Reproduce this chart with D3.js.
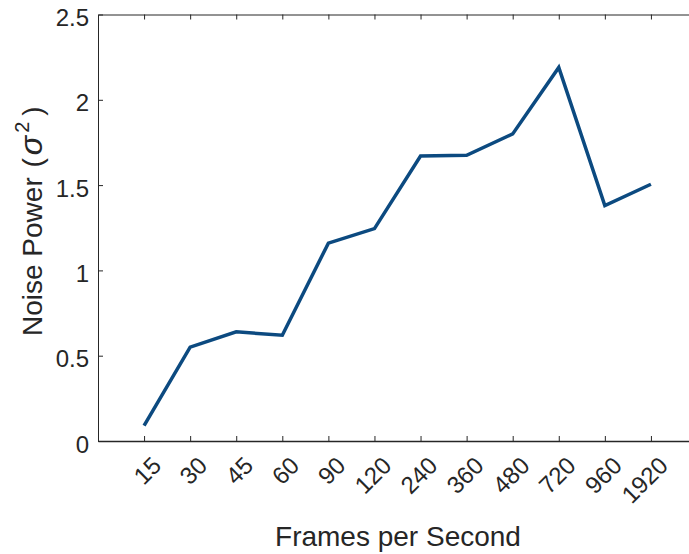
<!DOCTYPE html>
<html>
<head>
<meta charset="utf-8">
<script src="https://cdn.jsdelivr.net/npm/d3@7"></script>
<style>
  html, body { margin: 0; padding: 0; background: #fff; }
  svg { display: block; }
  text { font-family: "Liberation Sans", Arial, Helvetica, sans-serif; fill: #262626; }
</style>
</head>
<body>
<svg id="chart" width="689" height="554"></svg>
<script>
// Frame rates on the x axis (categorical)
const frameRates = ["15", "30", "45", "60", "90", "120", "240", "360", "480", "720", "960", "1920"];
// Measured noise power for each frame rate
const noisePower = [0.09, 0.55, 0.64, 0.62, 1.16, 1.245, 1.67, 1.675, 1.80, 2.19, 1.38, 1.505];
// Y-axis tick values
const yTicks = [0, 0.5, 1, 1.5, 2, 2.5];

const svg = d3.select("#chart");
const plotLeft = 98, plotTop = 14.5, plotBottom = 441, plotRight = 697;

// Category k sits at position k+1 on a [0, n+1] range
const x = d3.scaleLinear().domain([0, frameRates.length + 1]).range([plotLeft, plotRight]);
const y = d3.scaleLinear().domain([0, 2.5]).range([plotBottom, plotTop]);

const axisColor = "#262626";
const tickLen = 5;
const tickFont = 24;
const idx = frameRates.map((_, i) => i + 1);

// Bottom axis with inward ticks and rotated labels
const xAxis = svg.append("g").attr("transform", `translate(0,${plotBottom})`)
  .call(d3.axisBottom(x).tickValues(idx).tickSizeInner(-tickLen).tickSizeOuter(0)
    .tickFormat(d => frameRates[d - 1]));
xAxis.select(".domain").attr("stroke", axisColor).attr("stroke-width", 1.3);
xAxis.selectAll(".tick line").attr("stroke", axisColor);
xAxis.selectAll(".tick text")
  .attr("font-size", tickFont)
  .attr("fill", "#262626")
  .attr("text-anchor", "end")
  .attr("dy", 0)
  .attr("y", 0)
  .attr("transform", "translate(18,26) rotate(-45)");

// Top axis: line and ticks only
const xTop = svg.append("g").attr("transform", `translate(0,${plotTop})`)
  .call(d3.axisTop(x).tickValues(idx).tickSizeInner(-tickLen).tickSizeOuter(0).tickFormat(""));
xTop.select(".domain").attr("stroke", axisColor).attr("stroke-width", 1);
xTop.selectAll(".tick line").attr("stroke", axisColor);

// Left axis with inward ticks
const yAxis = svg.append("g").attr("transform", `translate(${plotLeft},0)`)
  .call(d3.axisLeft(y).tickValues(yTicks).tickSizeInner(-tickLen).tickSizeOuter(0)
    .tickFormat(d => String(d)));
yAxis.select(".domain").attr("stroke", axisColor).attr("stroke-width", 1);
yAxis.selectAll(".tick line").attr("stroke", axisColor);
yAxis.selectAll(".tick text")
  .attr("font-size", tickFont)
  .attr("fill", "#262626")
  .attr("x", -9)
  .attr("dy", "0.46em");

// Right axis: line and ticks only
const yRight = svg.append("g").attr("transform", `translate(${plotRight},0)`)
  .call(d3.axisRight(y).tickValues(yTicks).tickSizeInner(-tickLen).tickSizeOuter(0).tickFormat(""));
yRight.select(".domain").attr("stroke", axisColor);
yRight.selectAll(".tick line").attr("stroke", axisColor);

// Clear d3-axis group font defaults so the stylesheet applies
svg.selectAll("g").attr("font-family", null).attr("font-size", null);

// Data line
const line = d3.line()
  .x((d, i) => x(i + 1))
  .y(d => y(d));
svg.append("path")
  .datum(noisePower)
  .attr("d", line)
  .attr("fill", "none")
  .attr("stroke", "#0c4a80")
  .attr("stroke-width", 3.5)
  .attr("stroke-linejoin", "miter");

// Axis titles
svg.append("text")
  .attr("x", 398)
  .attr("y", 546)
  .attr("text-anchor", "middle")
  .attr("font-size", 28)
  .text("Frames per Second");

const yl = svg.append("text")
  .attr("transform", "translate(42,336) rotate(-90)")
  .attr("text-anchor", "start")
  .attr("font-size", 28);
yl.append("tspan").text("Noise Power ");
yl.append("tspan").attr("dx", 2).text("(");
yl.append("tspan").attr("dx", 3).attr("font-style", "italic").attr("font-size", 32).text("σ");
yl.append("tspan").attr("dx", 3).attr("font-size", 20).attr("dy", -13).text("2");
yl.append("tspan").attr("dx", 6).attr("dy", 13).text(")");
</script>
</body>
</html>
